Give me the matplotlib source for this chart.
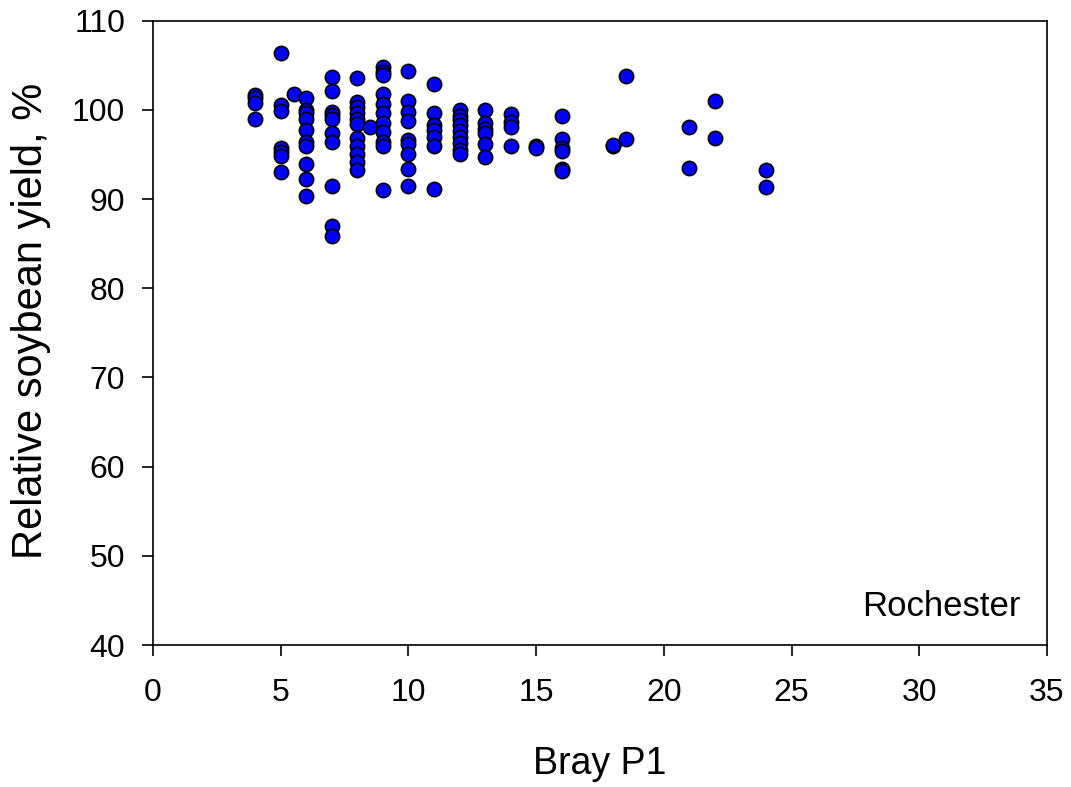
import matplotlib
matplotlib.use('Agg')
import matplotlib.pyplot as plt

# Bray P1 values and relative soybean yield (%)
BRAY_P1 = ([4] * 4 + [5] * 7 + [5.5] + [6] * 10 + [7] * 10 + [8] * 11 + [8.5]
           + [9] * 11 + [10] * 9 + [11] * 7 + [12] * 9 + [13] * 6 + [14] * 4
           + [15] * 2 + [16] * 6 + [18] * 2 + [18.5] * 2 + [21] * 2 + [22] * 2 + [24] * 2)
YIELD = [
    101.7, 101.3, 100.8, 99.0,                                      # 4
    106.4, 100.6, 99.9, 95.7, 95.3, 94.8, 93.0,                     # 5
    101.8,                                                          # 5.5
    101.3, 100.0, 99.6, 99.0, 97.8, 96.4, 96.0, 93.9, 92.3, 90.4,   # 6
    103.7, 102.1, 99.8, 99.4, 99.0, 97.4, 96.4, 91.5, 87.0, 85.9,   # 7
    103.6, 100.9, 100.3, 99.7, 99.0, 98.4, 96.8, 96.0, 95.1, 94.2, 93.3,  # 8
    98.1,                                                           # 8.5
    104.8, 104.3, 103.9, 101.8, 100.7, 99.6, 98.5, 97.5, 96.4, 95.9, 91.0,  # 9
    104.4, 101.0, 99.8, 98.8, 96.6, 96.2, 95.1, 93.4, 91.5,         # 10
    102.9, 99.7, 98.3, 97.7, 97.0, 95.9, 91.1,                      # 11
    100.0, 99.3, 98.9, 98.3, 97.6, 97.0, 96.3, 95.5, 95.1,          # 12
    100.0, 98.5, 97.9, 97.4, 96.2, 94.7,                            # 13
    99.5, 98.6, 98.1, 95.9,                                         # 14
    95.9, 95.7,                                                     # 15
    99.3, 96.7, 95.7, 95.4, 93.4, 93.2,                             # 16
    95.9, 96.1,                                                     # 18
    103.8, 96.7,                                                    # 18.5
    98.1, 93.5,                                                     # 21
    101.0, 96.9,                                                    # 22
    93.3, 91.4,                                                     # 24
]

X_TICKS = [0, 5, 10, 15, 20, 25, 30, 35]
Y_TICKS = [40, 50, 60, 70, 80, 90, 100, 110]

plt.rcParams['font.family'] = ['Liberation Sans', 'DejaVu Sans']

fig = plt.figure(figsize=(10.71, 7.87), dpi=100)
ax = fig.add_axes([0.1429, 0.1804, 0.8347, 0.7933])

ax.scatter(BRAY_P1, YIELD, s=105, c='#0000ff', edgecolors='black', linewidths=1.2, zorder=3)

ax.set_xlim(0, 35)
ax.set_ylim(40, 110)
ax.set_xticks(X_TICKS)
ax.set_yticks(Y_TICKS)
ax.tick_params(direction='out', length=8, width=1.2, labelsize=23)
ax.tick_params(axis='x', pad=16)
ax.tick_params(axis='y', pad=12)
for sp in ax.spines.values():
    sp.set_linewidth(1.2)

ax.set_xlabel('Bray P1', fontsize=27, labelpad=27)
ax.set_ylabel('Relative soybean yield, %', fontsize=30, labelpad=15, y=0.52)
ax.text(0.97, 0.035, 'Rochester', transform=ax.transAxes, ha='right', va='bottom', fontsize=25)

fig.savefig('out.png', dpi=100)
